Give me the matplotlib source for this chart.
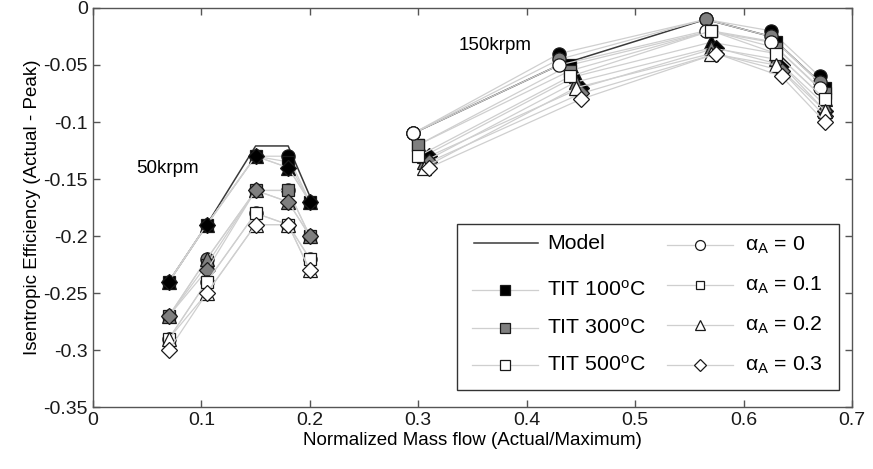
import numpy as np
import matplotlib.pyplot as plt
from matplotlib.lines import Line2D
from matplotlib.patches import Rectangle

plt.rcParams['font.family'] = ['Liberation Sans', 'DejaVu Sans']
plt.rcParams['mathtext.fontset'] = 'custom'
plt.rcParams['mathtext.rm'] = 'Liberation Sans'
plt.rcParams['mathtext.it'] = 'Liberation Sans'

# Данные: 50krpm
x_50 = [0.07, 0.105, 0.15, 0.18, 0.2]
model_50 = [-0.24, -0.19, -0.121, -0.121, -0.165]

y50_t100 = [[-0.24, -0.19, -0.13, -0.13, -0.17],
            [-0.24, -0.19, -0.13, -0.135, -0.17],
            [-0.24, -0.19, -0.13, -0.14, -0.17],
            [-0.24, -0.19, -0.13, -0.14, -0.17]]
y50_t300 = [[-0.27, -0.22, -0.16, -0.16, -0.20],
            [-0.27, -0.225, -0.16, -0.16, -0.20],
            [-0.27, -0.22, -0.16, -0.17, -0.20],
            [-0.27, -0.23, -0.16, -0.17, -0.20]]
y50_t500 = [[-0.29, -0.24, -0.18, -0.19, -0.22],
            [-0.29, -0.24, -0.18, -0.19, -0.22],
            [-0.29, -0.25, -0.19, -0.19, -0.23],
            [-0.30, -0.25, -0.19, -0.19, -0.23]]

# Данные: 150krpm (x немного сдвинут для разных alpha)
x_150 = [[0.295, 0.43, 0.565, 0.625, 0.67],
         [0.30, 0.44, 0.57, 0.63, 0.675],
         [0.305, 0.445, 0.57, 0.63, 0.675],
         [0.31, 0.45, 0.575, 0.635, 0.675]]
x_model_150 = [0.295, 0.43, 0.565, 0.625, 0.67]
model_150 = [-0.11, -0.05, -0.01, -0.025, -0.065]

y150_t100 = [[-0.11, -0.04, -0.01, -0.02, -0.06],
             [-0.12, -0.05, -0.02, -0.03, -0.07],
             [-0.13, -0.06, -0.03, -0.04, -0.08],
             [-0.13, -0.07, -0.035, -0.05, -0.09]]
y150_t300 = [[-0.11, -0.045, -0.01, -0.025, -0.065],
             [-0.12, -0.055, -0.02, -0.035, -0.075],
             [-0.135, -0.065, -0.035, -0.045, -0.085],
             [-0.135, -0.075, -0.04, -0.055, -0.095]]
y150_t500 = [[-0.11, -0.05, -0.02, -0.03, -0.07],
             [-0.13, -0.06, -0.02, -0.04, -0.08],
             [-0.14, -0.07, -0.04, -0.05, -0.09],
             [-0.14, -0.08, -0.04, -0.06, -0.10]]

temp_labels = ['TIT 100$^\\mathregular{o}$C', 'TIT 300$^\\mathregular{o}$C', 'TIT 500$^\\mathregular{o}$C']
alpha_labels = ['$\\mathregular{α_A}$ = 0', '$\\mathregular{α_A}$ = 0.1',
                '$\\mathregular{α_A}$ = 0.2', '$\\mathregular{α_A}$ = 0.3']

fills = ['#000000', '#7f7f7f', '#ffffff']
markers = ['o', 's', '^', 'D']
msizes = [9.5, 8.5, 9.5, 8]
line_c = '#cfcfcf'

fig = plt.figure(figsize=(8.73, 4.69), dpi=100)
ax = fig.add_axes([0.1065, 0.132, 0.8695, 0.851])

# Модель
ax.plot(x_50, model_50, '-', color='#3a3a3a', lw=1.1, zorder=1)
ax.plot(x_model_150, model_150, '-', color='#3a3a3a', lw=1.1, zorder=1)

# Эксперимент
data_50 = [y50_t100, y50_t300, y50_t500]
data_150 = [y150_t100, y150_t300, y150_t500]
for ti in range(3):
    for ai in range(4):
        ax.plot(x_50, data_50[ti][ai], '-', color=line_c, lw=0.9,
                marker=markers[ai], ms=msizes[ai], mfc=fills[ti],
                mec='#1a1a1a', mew=0.9, zorder=2)
        ax.plot(x_150[ai], data_150[ti][ai], '-', color=line_c, lw=0.9,
                marker=markers[ai], ms=msizes[ai], mfc=fills[ti],
                mec='#1a1a1a', mew=0.9, zorder=2)

ax.text(0.04, -0.141, '50krpm', fontsize=13.5, va='center', ha='left')
ax.text(0.337, -0.0325, '150krpm', fontsize=13.5, va='center', ha='left')

ax.set_xlim(0, 0.7)
ax.set_ylim(-0.35, 0)
ax.set_xticks(np.arange(0, 0.71, 0.1))
ax.set_xticklabels(['0', '0.1', '0.2', '0.3', '0.4', '0.5', '0.6', '0.7'])
ax.set_yticks(np.arange(-0.35, 0.001, 0.05))
ax.set_yticklabels(['-0.35', '-0.3', '-0.25', '-0.2', '-0.15', '-0.1', '-0.05', '0'])
ax.tick_params(direction='in', top=True, right=True, length=5, width=1,
               color='#555555', labelsize=14, labelcolor='#1a1a1a')
for s in ax.spines.values():
    s.set_color('#555555')
    s.set_linewidth(1)
ax.set_xlabel('Normalized Mass flow (Actual/Maximum)', fontsize=13.5, labelpad=2)
ax.set_ylabel('Isentropic Efficiency (Actual - Peak)', fontsize=13.5, labelpad=2)

# Легенда (вручную)
tr = ax.transAxes
ax.add_patch(Rectangle((0.4796, 0.0426), 0.5033, 0.416, transform=tr,
                       facecolor='white', edgecolor='#333333', lw=1, zorder=5))
ax.add_line(Line2D([0.502, 0.586], [0.411, 0.411], transform=tr,
                   color='#3a3a3a', lw=1.1, zorder=6))
ax.text(0.598, 0.411, 'Model', transform=tr, fontsize=15.3, va='center', zorder=6)
rows_l = [0.293, 0.198, 0.105]
for ti in range(3):
    ax.add_line(Line2D([0.499, 0.586], [rows_l[ti], rows_l[ti]], transform=tr,
                       color=line_c, lw=0.9, zorder=6))
    ax.add_line(Line2D([0.543], [rows_l[ti]], transform=tr, marker='s', ms=6.5,
                       mfc=fills[ti], mec='#1a1a1a', mew=0.9, zorder=7))
    ax.text(0.598, rows_l[ti], temp_labels[ti], transform=tr, fontsize=15.3,
            va='center', zorder=6)
rows_r = [0.406, 0.306, 0.206, 0.105]
for ai in range(4):
    ax.add_line(Line2D([0.756, 0.843], [rows_r[ai], rows_r[ai]], transform=tr,
                       color=line_c, lw=0.9, zorder=6))
    ax.add_line(Line2D([0.800], [rows_r[ai]], transform=tr, marker=markers[ai],
                       ms=msizes[ai] * 0.75, mfc='white', mec='#1a1a1a', mew=0.9, zorder=7))
    ax.text(0.859, rows_r[ai], alpha_labels[ai], transform=tr, fontsize=15.3,
            va='center', zorder=6)

fig.savefig('out.png', dpi=100)
